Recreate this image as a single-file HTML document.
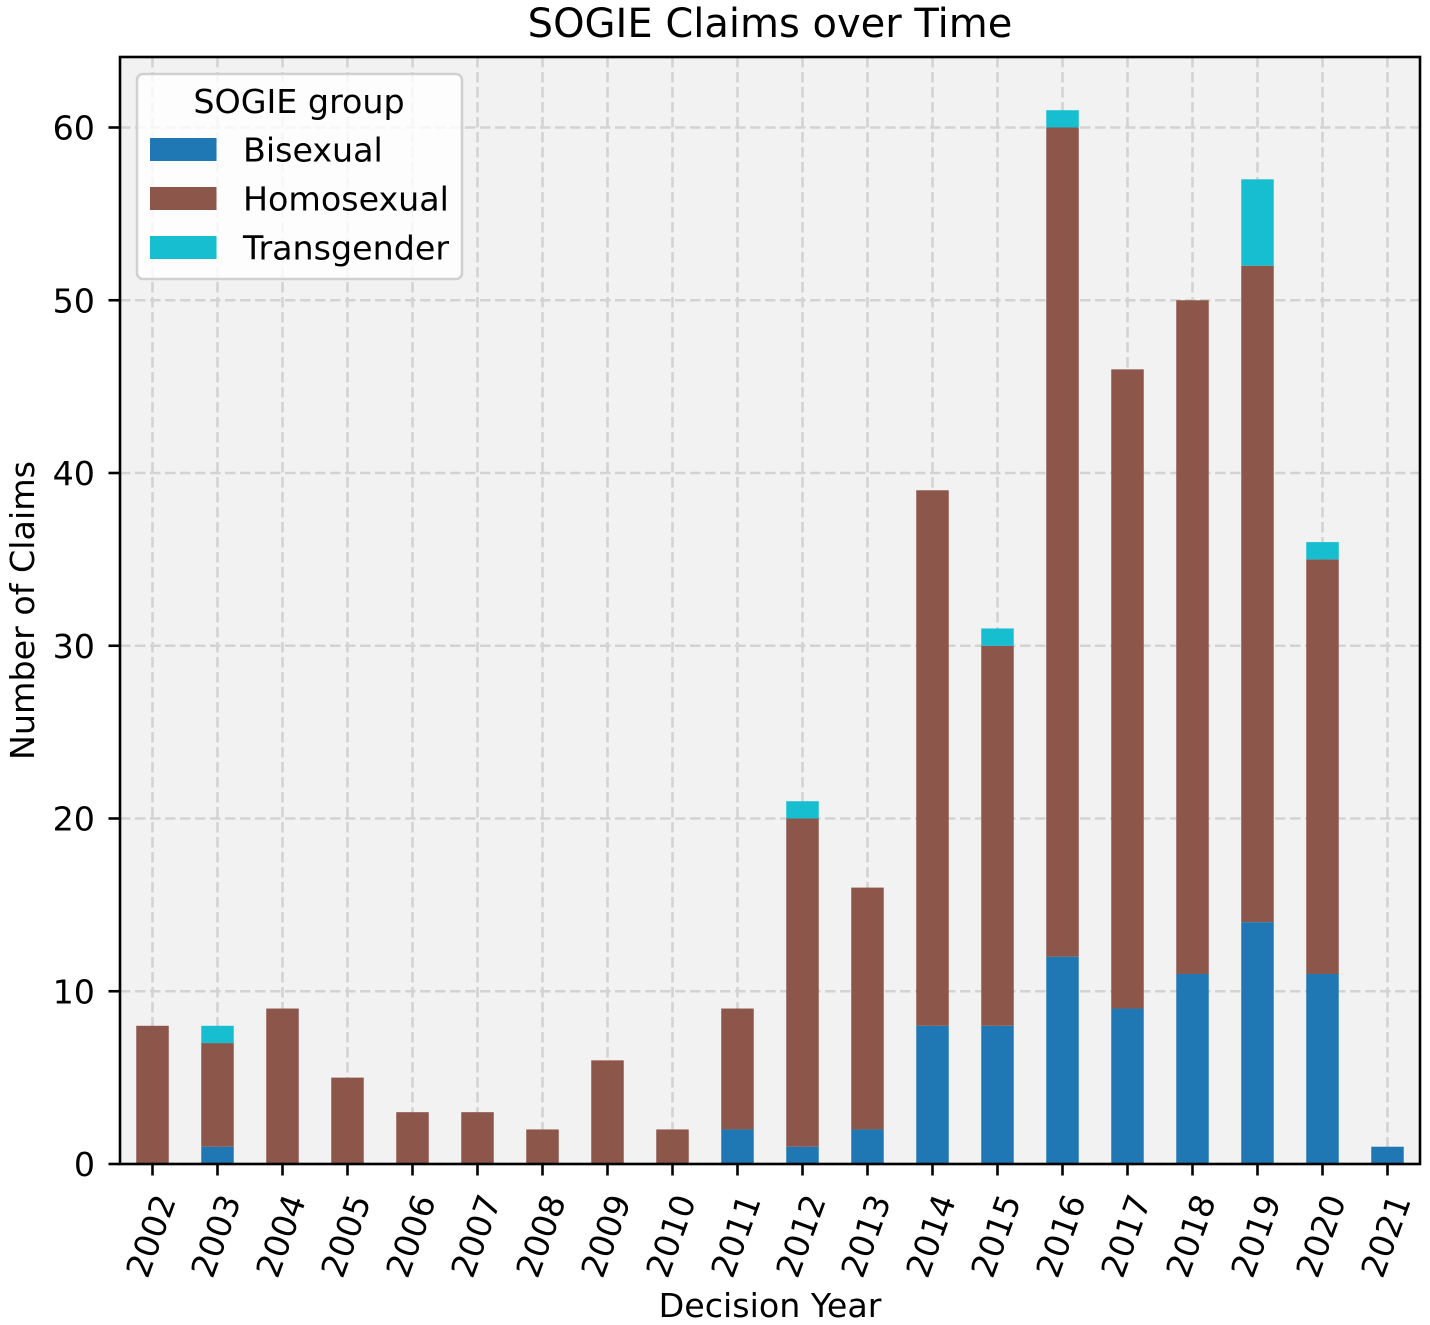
<!DOCTYPE html>
<html>
<head>
<meta charset="utf-8">
<title>SOGIE Claims over Time</title>
<style>
html,body{margin:0;padding:0;background:#fff;}
svg{display:block;}
text{font-family:"DejaVu Sans","Liberation Sans",sans-serif;fill:#000;}
</style>
</head>
<body>
<svg id="chart" xmlns="http://www.w3.org/2000/svg" width="1430" height="1325" viewBox="0 0 1430 1325"></svg>
<script>
const years = [2002,2003,2004,2005,2006,2007,2008,2009,2010,2011,2012,2013,2014,2015,2016,2017,2018,2019,2020,2021];
const bisexual = [0,1,0,0,0,0,0,0,0,2,1,2,8,8,12,9,11,14,11,1];
const homosexual = [8,6,9,5,3,3,2,6,2,7,19,14,31,22,48,37,39,38,24,0];
const transgender = [0,1,0,0,0,0,0,0,0,0,1,0,0,1,1,0,0,5,1,0];
const yTicks = [0,10,20,30,40,50,60];
const seriesNames = ['Bisexual','Homosexual','Transgender'];
const seriesColors = ['#1f77b4','#8c564b','#17becf'];

const svg = document.getElementById('chart');
const NS = 'http://www.w3.org/2000/svg';
const L = 120, R = 1420, T = 57, B = 1164;
const xStep = (R - L) / years.length;
const yUnit = (1164 - 127.5) / 60;
function xScale(i){ return L + xStep * (i + 0.5); }
function yScale(v){ return B - v * yUnit; }
function mk(tag, attrs, parent, txt){
  const e = document.createElementNS(NS, tag);
  for (const k in attrs) e.setAttribute(k, attrs[k]);
  if (txt !== undefined) e.textContent = txt;
  (parent || svg).appendChild(e);
  return e;
}

const bg = mk('rect', {x:L, y:T, width:R-L, height:B-T, fill:'#f2f2f2'});



const gridDash = '10.5 4.5';
yTicks.forEach(function(v){
  const g = mk('line', {x1:L, x2:R, y1:yScale(v), y2:yScale(v), stroke:'#d3d3d3', 'stroke-width':2.6, 'stroke-dasharray':gridDash});
  
  
});
years.forEach(function(y, i){
  const g = mk('line', {x1:xScale(i), x2:xScale(i), y1:T, y2:B, stroke:'#d3d3d3', 'stroke-width':2.6, 'stroke-dasharray':gridDash});
  
  
});

const barW = xStep * 0.5;
const allSeries = [bisexual, homosexual, transgender];
years.forEach(function(y, i){
  let base = 0;
  allSeries.forEach(function(series, s){
    const v = series[i];
    if (v > 0) {
      const top = yScale(base + v);
      const r = mk('rect', {x:xScale(i)-barW/2, y:top, width:barW, height:yScale(base)-top, fill:seriesColors[s]});
      
      
    }
    base += v;
  });
});

/* legend */
const lg = mk('g', {});


const lbox = mk('rect', {x:137, y:74, width:325, height:205, rx:6, ry:6, fill:'#ffffff', 'fill-opacity':0.8, stroke:'#d0d0d0', 'stroke-width':2.6}, lg);


const lt = mk('text', {x:299, y:113, 'font-size':33.3, 'text-anchor':'middle'}, lg, 'SOGIE group');


seriesNames.forEach(function(n, s){
  const yy = 138 + s * 49;
  const sw = mk('rect', {x:150, y:yy, width:66.5, height:23, fill:seriesColors[s]}, lg);
  
  
  const t = mk('text', {x:243, y:yy+23.5, 'font-size':33.3}, lg, n);
  
  
});

/* spines */
const spine = mk('rect', {x:L, y:T, width:R-L, height:B-T, fill:'none', stroke:'#000', 'stroke-width':2.6});



/* y ticks */
yTicks.forEach(function(v){
  const tk = mk('line', {x1:L-11.5, x2:L, y1:yScale(v), y2:yScale(v), stroke:'#000', 'stroke-width':2.6});
  
  
  const t = mk('text', {x:L-25, y:yScale(v)+12, 'font-size':33.3, 'text-anchor':'end'}, svg, String(v));
  
  
});

/* x ticks */
years.forEach(function(y, i){
  const x = xScale(i);
  const tk = mk('line', {x1:x, x2:x, y1:B, y2:B+11.5, stroke:'#000', 'stroke-width':2.6});
  
  
  const t = mk('text', {x:0, y:0, 'font-size':33.3, 'text-anchor':'middle', 'dominant-baseline':'central', transform:'translate(' + (x - 1.5) + ' 1236) rotate(-70)'}, svg, String(y));
  
  
});

const title = mk('text', {x:770, y:37, 'font-size':40, 'text-anchor':'middle'}, svg, 'SOGIE Claims over Time');



const xTitle = mk('text', {x:770, y:1317, 'font-size':33.3, 'text-anchor':'middle'}, svg, 'Decision Year');



const yTitle = mk('text', {x:0, y:0, 'font-size':33.3, 'text-anchor':'middle', transform:'translate(34 610.5) rotate(-90)'}, svg, 'Number of Claims');


</script>
</body>
</html>
